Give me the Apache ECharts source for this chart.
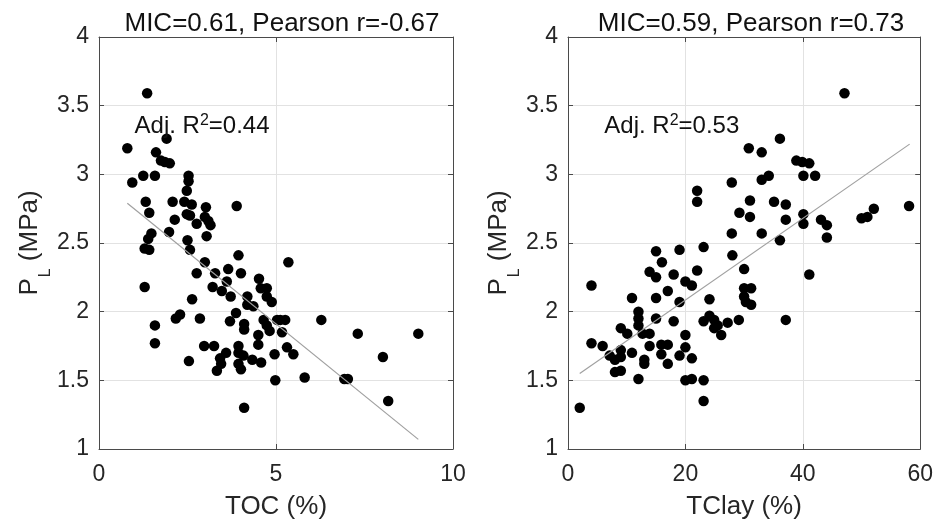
<!DOCTYPE html>
<html>
<head>
<meta charset="utf-8">
<script src="https://cdn.jsdelivr.net/npm/echarts@6/dist/echarts.min.js"></script>
<style>
html,body{margin:0;padding:0;background:#fff;}
#chart{width:936px;height:526px;}
</style>
</head>
<body>
<div id="chart"></div>
<script>
// ---- Data ----
var tocX = [1.36,1.91,0.80,1.61,1.75,1.86,2.00,1.25,1.58,0.94,2.53,2.53,2.48,1.32,2.08,2.41,2.62,3.02,3.89,1.42,
            2.14,2.48,2.57,2.99,3.09,3.15,2.76,3.04,1.98,1.48,2.50,1.39,1.29,1.42,2.57,3.94,2.99,3.65,4.01,3.28,
            2.76,3.61,3.21,1.29,4.52,4.57,4.74,3.47,3.72,4.19,4.74,4.88,2.63,4.19,4.36,3.87,2.29,2.17,2.85,3.70,
            4.65,5.03,4.10,4.10,4.74,4.82,4.50,1.58,1.58,2.97,3.25,3.94,4.50,3.59,3.94,3.42,4.08,4.33,4.58,4.96,
            2.54,3.45,3.94,3.33,4.01,4.98,4.10,5.35,5.12,5.26,5.17,6.28,7.31,9.02,5.31,5.49,8.02,5.81,6.93,7.03,8.17];
var tocY = [3.59,3.26,3.19,3.16,3.10,3.09,3.08,2.99,2.99,2.94,2.99,2.95,2.88,2.80,2.80,2.80,2.78,2.76,2.77,2.72,
            2.67,2.71,2.70,2.69,2.66,2.63,2.64,2.55,2.58,2.57,2.52,2.53,2.46,2.45,2.45,2.41,2.36,2.31,2.28,2.28,
            2.28,2.22,2.18,2.18,2.24,2.17,2.17,2.15,2.11,2.11,2.11,2.07,2.09,2.05,2.04,1.99,1.98,1.95,1.95,1.93,
            1.94,1.94,1.91,1.87,1.90,1.86,1.83,1.90,1.77,1.75,1.75,1.75,1.76,1.70,1.70,1.66,1.68,1.65,1.63,1.69,
            1.64,1.62,1.62,1.57,1.58,1.50,1.30,2.36,1.94,1.94,1.85,1.94,1.84,1.84,1.74,1.69,1.67,1.52,1.51,1.51,1.35];

var clayX = [27.9,22.0,22.0,30.8,29.2,27.9,47.1,36.1,33.0,38.9,39.9,41.1,33.0,34.2,40.1,42.1,31.0,35.1,37.1,31.0,
             37.1,40.1,40.1,43.1,44.1,44.1,50.0,51.0,52.1,58.1,33.0,36.1,30.0,41.1,30.0,31.2,30.0,30.3,31.2,37.1,
             28.0,15.0,19.0,23.1,16.0,13.9,15.0,18.0,22.0,20.0,21.1,4.0,17.0,10.9,15.0,19.0,24.1,12.0,12.0,12.0,
             15.0,18.0,23.1,24.1,24.9,25.5,26.1,27.2,24.9,29.1,9.0,10.1,12.7,13.9,20.0,4.0,5.9,9.0,9.0,7.1,
             8.0,8.0,9.0,13.9,15.9,17.0,10.9,15.9,20.0,19.0,21.1,13.0,13.0,17.0,12.0,20.0,21.1,23.1,23.1,2.0];
var clayY = [2.94,2.88,2.80,3.19,2.72,2.57,3.59,3.26,3.16,3.10,3.09,3.08,2.96,2.99,2.99,2.99,2.81,2.80,2.78,2.69,
             2.67,2.71,2.64,2.67,2.63,2.54,2.68,2.69,2.75,2.77,2.57,2.52,2.31,2.27,2.17,2.17,2.11,2.07,2.05,1.94,
             2.41,2.44,2.45,2.47,2.36,2.29,2.25,2.27,2.30,2.22,2.19,2.19,2.15,2.10,2.10,2.07,2.09,2.00,1.95,1.90,
             1.95,1.93,1.93,1.97,1.94,1.90,1.83,1.92,1.88,1.94,1.88,1.84,1.84,1.84,1.83,1.77,1.75,1.72,1.67,1.68,
             1.65,1.56,1.57,1.75,1.76,1.76,1.70,1.69,1.74,1.68,1.66,1.65,1.62,1.62,1.51,1.50,1.51,1.50,1.35,1.30];

// regression line end points
var tocFitX = [0.80, 9.02];
var tocFitY = [2.79, 1.07];
var clayFitX = [2.0, 58.2];
var clayFitY = [1.55, 3.22];

// titles, labels, annotations
var titles = ['MIC=0.61, Pearson r=-0.67', 'MIC=0.59, Pearson r=0.73'];
var xNames = ['TOC (%)', 'TClay (%)'];
var r2Values = ['0.44', '0.53'];
var annoPos = [[0.99, 3.35], [6.1, 3.35]];
var xRanges = [[0, 10, 5], [0, 60, 20]];
var yRange = [1, 4, 0.5];

function zip(a, b) { return a.map(function (v, i) { return [v, b[i]]; }); }

var FONT = '"Liberation Sans", Arial, Helvetica, sans-serif';
var TXT = '#262626';
var AX = '#4a4a4a';

var grids = [
  {left: 99, top: 37, width: 354, height: 412},
  {left: 568, top: 37, width: 354, height: 412}
];

var xAxes = [], yAxes = [], series = [];
for (var g = 0; g < 2; g++) {
  var xr = xRanges[g];
  xAxes.push({
    gridIndex: g, type: 'value', position: 'bottom', min: xr[0], max: xr[1], interval: xr[2],
    name: xNames[g], nameLocation: 'middle', nameGap: 45,
    nameTextStyle: {fontFamily: FONT, fontSize: 26, color: TXT},
    axisLine: {show: true, onZero: false, lineStyle: {color: AX, width: 1}},
    axisTick: {show: true, inside: true, length: 5, lineStyle: {color: AX}},
    axisLabel: {fontFamily: FONT, fontSize: 23, color: TXT, margin: 14},
    splitLine: {show: true, lineStyle: {color: '#e2e2e2', width: 1}}
  });
  xAxes.push({
    gridIndex: g, type: 'value', position: 'top', min: xr[0], max: xr[1], interval: xr[2],
    axisLine: {show: true, onZero: false, lineStyle: {color: AX, width: 1}},
    axisTick: {show: true, inside: true, length: 5, lineStyle: {color: AX}},
    axisLabel: {show: false}, splitLine: {show: false}
  });
  yAxes.push({
    gridIndex: g, type: 'value', position: 'left', min: yRange[0], max: yRange[1], interval: yRange[2],
    name: '{p|P}{s|L}{p| (MPa)}', nameLocation: 'middle', nameGap: 53, nameRotate: 90,
    nameTextStyle: {
      fontFamily: FONT, color: TXT,
      rich: {
        p: {fontFamily: FONT, fontSize: 26, lineHeight: 26, color: TXT, verticalAlign: 'top'},
        s: {fontFamily: FONT, fontSize: 16, lineHeight: 16, color: TXT, verticalAlign: 'top', padding: [20, 0, 0, 1]}
      }
    },
    axisLine: {show: true, onZero: false, lineStyle: {color: AX, width: 1}},
    axisTick: {show: true, inside: true, length: 5, lineStyle: {color: AX}},
    axisLabel: {fontFamily: FONT, fontSize: 23, color: TXT, margin: 10},
    splitLine: {show: true, lineStyle: {color: '#e2e2e2', width: 1}}
  });
  yAxes.push({
    gridIndex: g, type: 'value', position: 'right', min: yRange[0], max: yRange[1], interval: yRange[2],
    axisLine: {show: true, onZero: false, lineStyle: {color: AX, width: 1}},
    axisTick: {show: true, inside: true, length: 5, lineStyle: {color: AX}},
    axisLabel: {show: false}, splitLine: {show: false}
  });
}

var scatterData = [zip(tocX, tocY), zip(clayX, clayY)];
var fitData = [zip(tocFitX, tocFitY), zip(clayFitX, clayFitY)];

for (var k = 0; k < 2; k++) {
  series.push({
    type: 'scatter', xAxisIndex: 2 * k, yAxisIndex: 2 * k,
    data: scatterData[k], symbol: 'circle', symbolSize: 10.5,
    itemStyle: {color: '#000', opacity: 1}, z: 2, silent: true
  });
  series.push({
    type: 'line', xAxisIndex: 2 * k, yAxisIndex: 2 * k,
    data: fitData[k], symbol: 'none',
    lineStyle: {color: '#a0a0a0', width: 1.2}, z: 3, silent: true
  });
  series.push({
    type: 'scatter', xAxisIndex: 2 * k, yAxisIndex: 2 * k,
    data: [annoPos[k]], symbolSize: 1, silent: true, z: 4,
    itemStyle: {color: 'rgba(0,0,0,0)', opacity: 1},
    label: {
      show: true, position: 'right', distance: 0,
      color: '#111', opacity: 1, textBorderWidth: 0,
      formatter: '{a|Adj. R}{s|2}{a|=' + r2Values[k] + '}',
      rich: {
        a: {fontFamily: FONT, fontSize: 24, lineHeight: 24, color: '#111', verticalAlign: 'bottom'},
        s: {fontFamily: FONT, fontSize: 16, lineHeight: 16, color: '#111', verticalAlign: 'bottom', padding: [0, 0, 10, 0]}
      }
    }
  });
}

var chart = echarts.init(document.getElementById('chart'), null, {renderer: 'canvas'});
chart.setOption({
  backgroundColor: '#ffffff',
  animation: false,
  title: [
    {text: titles[0], left: 277, top: 6, textAlign: 'center',
     textStyle: {fontFamily: FONT, fontSize: 26, fontWeight: 'normal', color: '#111'}},
    {text: titles[1], left: 746, top: 6, textAlign: 'center',
     textStyle: {fontFamily: FONT, fontSize: 26, fontWeight: 'normal', color: '#111'}}
  ],
  grid: grids,
  xAxis: xAxes,
  yAxis: yAxes,
  series: series
});
</script>
</body>
</html>
